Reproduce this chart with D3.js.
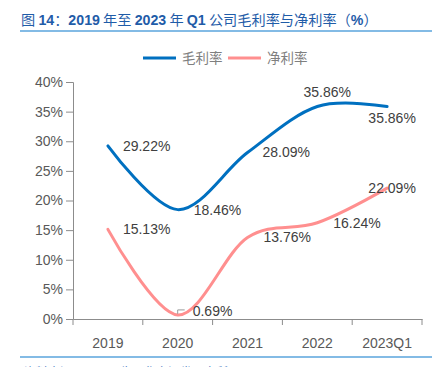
<!DOCTYPE html>
<html><head><meta charset="utf-8">
<script src="https://cdn.jsdelivr.net/npm/d3@7"></script>
<style>body{margin:0;background:#fff;}svg{display:block;font-family:"Liberation Sans",Arial,sans-serif;}</style>
</head><body>
<svg id="c" width="446" height="367"></svg>
<script>
const categories = ["2019","2020","2021","2022","2023Q1"];
const grossMargin = [29.22, 18.46, 28.09, 35.86, 35.86];
const netMargin = [15.13, 0.69, 13.76, 16.24, 22.09];
const yTicks = [0,5,10,15,20,25,30,35,40];
const seriesNames = ["毛利率","净利率"];
const colors = ["#0070c0","#ff8f8f"];
// label placement: [dx, dy, anchor]
const grossLabelPos = [[15,0,"start"],[16,0,"start"],[15,0,"start"],[10,-14,"middle"],[5,12,"middle"]];
const netLabelPos = [[15,0,"start"],[15,-4,"start"],[16,0,"start"],[16,0,"start"],[5,0,"middle"]];
const titleParts = [["图 ",0],["14",1],["：",0],["2019",1],[" 年至 ",0],["2023",1],[" 年 ",0],["Q1",1],[" 公司毛利率与净利率（",0],["%",1],["）",0]];

const svg = d3.select("#c");
const x = d3.scaleBand().domain(categories).range([73,422]);
const y = d3.scaleLinear().domain([0,40]).range([319,82]);
const cx = d => x(d) + x.bandwidth()/2;

// title
const t = svg.append("text").attr("x",21).attr("y",25).attr("fill","#1f5ca8")
  .attr("font-size","14.2px");
titleParts.forEach(p=>{
  t.append("tspan").attr("font-weight",p[1]?"bold":"normal")
    .attr("font-family",p[1]?"'Liberation Sans',Arial,sans-serif":"'Noto Sans CJK SC',sans-serif")
    .text(p[0]);
});
svg.append("line").attr("x1",20).attr("x2",432).attr("y1",31).attr("y2",31)
  .attr("stroke","#5aa5dc").attr("stroke-width",1.5);

// y axis
const yAxis = svg.append("g").attr("transform","translate(73,0)")
  .call(d3.axisLeft(y).tickValues(yTicks).tickFormat(d=>d+"%").tickSize(7).tickPadding(3));
yAxis.select(".domain").attr("stroke","#8c8c8c");
yAxis.selectAll(".tick line").attr("stroke","#8c8c8c");
yAxis.selectAll("text").attr("fill","#595959").attr("font-size","14px")
  .attr("font-family","'Liberation Sans',Arial,sans-serif");

// x axis
const xAxis = svg.append("g").attr("transform","translate(0,319)")
  .call(d3.axisBottom(x).tickSize(0).tickPadding(19));
xAxis.select(".domain").attr("stroke","#8c8c8c");
xAxis.selectAll("text").attr("fill","#595959").attr("font-size","14px")
  .attr("font-family","'Liberation Sans',Arial,sans-serif");
const bounds = categories.map(c=>x(c)).concat([x.range()[1]]);
xAxis.selectAll(".bt").data(bounds).enter().append("line")
  .attr("x1",d=>d).attr("x2",d=>d).attr("y1",0).attr("y2",6).attr("stroke","#8c8c8c");

// lines
const line = d3.line().x((d,i)=>cx(categories[i])).y(d=>y(d)).curve(d3.curveCardinal.tension(0));
[grossMargin, netMargin].forEach((s,k)=>{
  svg.append("path").attr("d",line(s)).attr("fill","none")
    .attr("stroke",colors[k]).attr("stroke-width",3).attr("stroke-linecap","round");
});

// small leader mark near 0.69%
svg.append("path")
  .attr("d",`M${cx(categories[1])},${y(netMargin[1])-1} V${y(netMargin[1])-5} H${cx(categories[1])+7}`)
  .attr("fill","none").attr("stroke","#999").attr("stroke-width",1);

// labels
function labels(s, pos){
  s.forEach((v,i)=>{
    const p = pos[i];
    svg.append("text").attr("x",cx(categories[i])+p[0]).attr("y",y(v)+p[1])
      .attr("dy","0.35em").attr("text-anchor",p[2]).attr("fill","#404040")
      .attr("font-size","14px").text(v.toFixed(2)+"%");
  });
}
labels(grossMargin, grossLabelPos);
labels(netMargin, netLabelPos);

// legend
const lg = svg.append("g");
seriesNames.forEach((n,k)=>{
  const x0 = 143 + k*85;
  lg.append("line").attr("x1",x0).attr("x2",x0+33).attr("y1",58).attr("y2",58)
    .attr("stroke",colors[k]).attr("stroke-width",3);
  lg.append("text").attr("x",x0+39).attr("y",58).attr("dy","0.35em")
    .attr("fill","#7f7f7f").attr("font-size","13.5px")
    .attr("font-family","'Noto Sans CJK SC',sans-serif").text(n);
});

// bottom rule and source (cut off at the bottom edge, as in the reference)
svg.append("line").attr("x1",20).attr("x2",432).attr("y1",357).attr("y2",357)
  .attr("stroke","#5aa5dc").attr("stroke-width",1.5);
svg.append("text").attr("x",24).attr("y",377).attr("fill","#4a7cc4")
  .attr("font-size","12px").attr("font-family","'Noto Sans CJK SC',sans-serif")
  .text("资料来源：公司公告，华安证券研究所");
</script>
</body></html>
